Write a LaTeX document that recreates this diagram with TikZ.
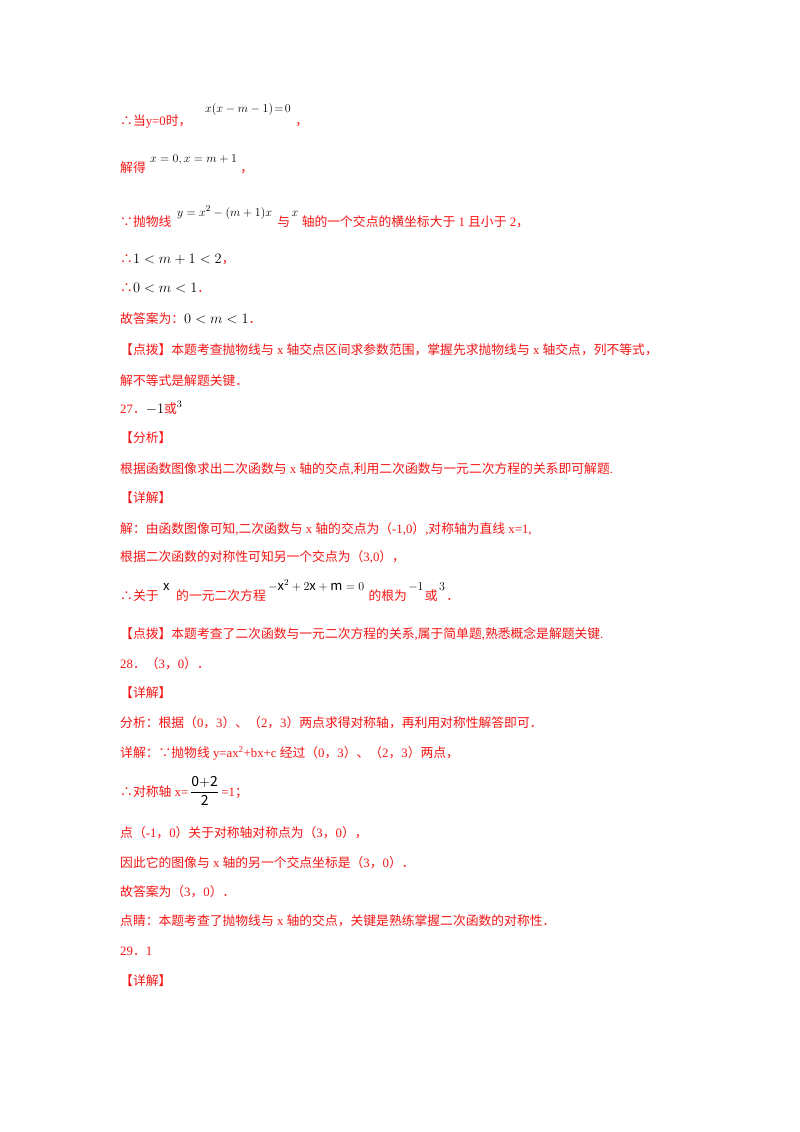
\documentclass[tikz,border=0pt]{standalone}
\usepackage{fontspec}
\setmainfont{Noto Sans CJK SC}
\newfontfamily\lt{Liberation Serif}
\newcommand{\T}[1]{{\lt #1}}
\newcommand{\M}[1]{{\fontsize{14}{16}\selectfont\textcolor{black}{$#1$}}}
\definecolor{rd}{RGB}{245,20,20}
\begin{document}
\begin{tikzpicture}[x=1pt,y=-1pt,
  ln/.style={anchor=base west,inner sep=0pt,text=rd,font=\fontsize{12.8}{14}\selectfont},
  mt/.style={anchor=base west,inner sep=0pt,text=black,font=\fontsize{13}{16}\selectfont}]
\useasboundingbox (0,0) rectangle (800,1132);
\node[ln] (l1) at (120,125) {∴当\T{y=0}时，};
\node[mt] (m1) at (205,112) {$x\bigl(x-m-1\bigr)\!=\!0$};
\node[ln] (c1) at ([xshift=4pt]m1.base east |- l1.base) {，};
\node[ln] (l2) at (120,172) {解得};
\node[mt] (m2) at (150,162) {$x=0,x=m+1$};
\node[ln] (c2) at ([xshift=3pt]m2.base east |- l2.base) {，};
\node[ln] (l3) at (120,226) {∵抛物线};
\node[mt] (m3) at (177,216) {$y=x^2-\bigl(m+1\bigr)x$};
\node[ln] (l3b) at ([xshift=5pt]m3.base east |- l3.base) {与};
\node[mt] (m3b) at ([xshift=1pt]l3b.base east |- m3.base) {$x$};
\node[ln] (l3c) at ([xshift=3pt]m3b.base east |- l3.base) {轴的一个交点的横坐标大于\T{ 1 }且小于\T{ 2}，};
\node[ln] (l4) at (120,263) {∴\M{1<m+1<2}，};
\node[ln] (l5) at (120,292) {∴\M{0<m<1}．};
\node[ln] (l6) at (120,323) {故答案为：\M{0<m<1}．};
\node[ln] (l7) at (120,354) {【点拨】本题考查抛物线与\T{ x }轴交点区间求参数范围，掌握先求抛物线与\T{ x }轴交点，列不等式，};
\node[ln] (l8) at (120,385) {解不等式是解题关键．};
\node[ln] (l9) at (120,413) {\T{27}．\M{-1}或\M{^{3}}};
\node[ln] (l10) at (120,442) {【分析】};
\node[ln] (l11) at (120,473) {根据函数图像求出二次函数与\T{ x }轴的交点\T{,}利用二次函数与一元二次方程的关系即可解题\T{.}};
\node[ln] (l12) at (120,502) {【详解】};
\node[ln] (l13) at (120,533) {解：由函数图像可知\T{,}二次函数与\T{ x }轴的交点为（\T{-1,0}）\T{,}对称轴为直线\T{ x=1,}};
\node[ln] (l14) at (120,561) {根据二次函数的对称性可知另一个交点为（\T{3,0}），};
\node[ln] (l15) at (120,600) {∴关于};
\node[mt] (m15a) at (163,590) {$\mathrm{x}$};
\node[ln] (l15b) at (176,600) {的一元二次方程};
\node[mt] (m15b) at (268,590) {$-\mathrm{x}^2+2\mathrm{x}+\mathrm{m}=0$};
\node[ln] (l15c) at ([xshift=4pt]m15b.base east |- l15.base) {的根为};
\node[mt] (m15c) at ([xshift=1pt]l15c.base east |- m15b.base) {$-1$};
\node[ln] (l15d) at ([xshift=1pt]m15c.base east |- l15.base) {或};
\node[mt] (m15d) at ([xshift=1pt]l15d.base east |- m15b.base) {$3$};
\node[ln] (l15e) at ([xshift=1pt]m15d.base east |- l15.base) {．};
\node[ln] (l16) at (120,638) {【点拨】本题考查了二次函数与一元二次方程的关系\T{,}属于简单题\T{,}熟悉概念是解题关键\T{.}};
\node[ln] (l17) at (120,668) {\T{28}．（\T{3}，\T{0}）．};
\node[ln] (l18) at (120,697) {【详解】};
\node[ln] (l19) at (120,727) {分析：根据（\T{0}，\T{3}）、（\T{2}，\T{3}）两点求得对称轴，再利用对称性解答即可．};
\node[ln] (l20) at (120,757) {详解：∵抛物线\T{ y=ax\textsuperscript{2}+bx+c }经过（\T{0}，\T{3}）、（\T{2}，\T{3}）两点，};
\node[ln] (l21) at (120,796) {∴对称轴\T{ x=}};
\node[ln] (fr) at (190,796) {\fontsize{14}{16}\selectfont\textcolor{black}{$\displaystyle\frac{\mathrm{0{+}2}}{\mathrm{2}}$}};
\node[ln] (l21b) at ([xshift=2pt]fr.base east) {\T{=1}；};
\node[ln] (l22) at (120,837) {点（\T{-1}，\T{0}）关于对称轴对称点为（\T{3}，\T{0}），};
\node[ln] (l23) at (120,867) {因此它的图像与\T{ x }轴的另一个交点坐标是（\T{3}，\T{0}）．};
\node[ln] (l24) at (120,896) {故答案为（\T{3}，\T{0}）．};
\node[ln] (l25) at (120,925) {点睛：本题考查了抛物线与\T{ x }轴的交点，关键是熟练掌握二次函数的对称性．};
\node[ln] (l26) at (120,955) {\T{29}．\T{1}};
\node[ln] (l27) at (120,985) {【详解】};
\end{tikzpicture}
\end{document}
